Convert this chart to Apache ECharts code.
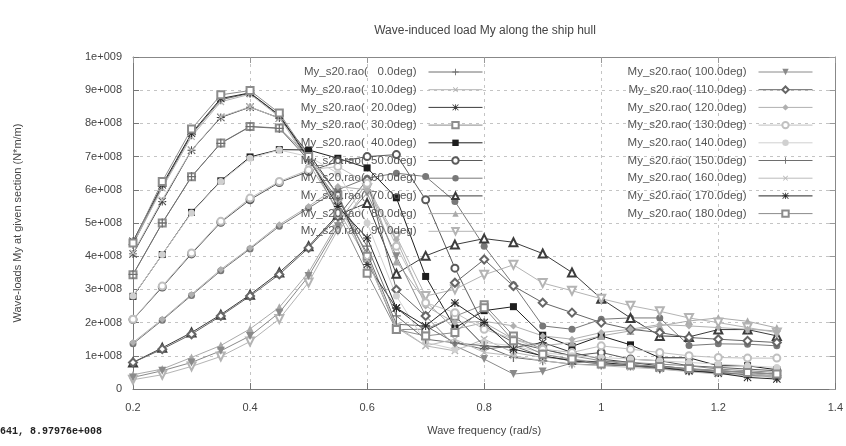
<!DOCTYPE html>
<html>
<head>
<meta charset="utf-8">
<title>Wave-induced load My</title>
<script src="https://cdn.jsdelivr.net/npm/echarts@6/dist/echarts.min.js"></script>
<style>
  html, body { margin: 0; padding: 0; background: #fff; }
  #main { width: 846px; height: 446px; }
</style>
</head>
<body>
<div id="main"></div>
<script>
// wave frequencies (rad/s) and headings (deg)
var freqs = [0.2, 0.25, 0.3, 0.35, 0.4, 0.45, 0.5, 0.55, 0.6, 0.65, 0.7, 0.75,
             0.8, 0.85, 0.9, 0.95, 1.0, 1.05, 1.1, 1.15, 1.2, 1.25, 1.3];
var angles = [0, 10, 20, 30, 40, 50, 60, 70, 80, 90, 100, 110, 120, 130, 140, 150, 160, 170, 180];

// My RAO values (N*m/m), one list per heading
var my000 = [4.35e8, 6.10e8, 7.66e8, 8.71e8, 8.91e8, 8.23e8, 6.90e8, 5.60e8, 4.10e8, 1.95e8, 1.90e8, 1.39e8, 1.20e8, 1.30e8, 0.98e8, 0.85e8, 0.75e8, 0.70e8, 0.62e8, 0.55e8, 0.50e8, 0.45e8, 0.40e8];
var my010 = [4.37e8, 6.05e8, 7.60e8, 8.65e8, 8.88e8, 8.20e8, 6.80e8, 5.40e8, 3.90e8, 1.85e8, 1.30e8, 1.15e8, 1.50e8, 1.10e8, 0.95e8, 0.90e8, 0.80e8, 0.70e8, 0.65e8, 0.60e8, 0.50e8, 0.45e8, 0.40e8];
var my020 = [4.07e8, 5.65e8, 7.19e8, 8.18e8, 8.49e8, 8.16e8, 7.10e8, 5.85e8, 3.75e8, 2.44e8, 1.75e8, 2.20e8, 1.30e8, 1.25e8, 1.40e8, 1.10e8, 0.90e8, 0.80e8, 0.70e8, 0.60e8, 0.55e8, 0.50e8, 0.45e8];
var my030 = [3.44e8, 5.00e8, 6.39e8, 7.41e8, 7.91e8, 7.86e8, 7.00e8, 5.85e8, 4.00e8, 1.79e8, 1.80e8, 2.19e8, 2.54e8, 1.60e8, 1.20e8, 1.00e8, 0.85e8, 0.75e8, 0.65e8, 0.60e8, 0.55e8, 0.50e8, 0.45e8];
var my040 = [2.79e8, 4.05e8, 5.32e8, 6.27e8, 6.99e8, 7.21e8, 7.20e8, 6.95e8, 6.66e8, 5.76e8, 3.39e8, 1.84e8, 2.36e8, 2.48e8, 1.62e8, 1.28e8, 1.60e8, 1.33e8, 0.94e8, 0.94e8, 0.70e8, 0.70e8, 0.58e8];
var my050 = [2.09e8, 3.07e8, 4.07e8, 5.02e8, 5.70e8, 6.22e8, 6.55e8, 6.85e8, 7.00e8, 7.06e8, 5.70e8, 3.64e8, 1.90e8, 1.40e8, 1.20e8, 1.00e8, 1.10e8, 0.90e8, 0.85e8, 0.70e8, 0.65e8, 0.60e8, 0.55e8];
var my060 = [1.36e8, 2.07e8, 2.82e8, 3.56e8, 4.22e8, 4.90e8, 5.45e8, 6.00e8, 6.35e8, 6.50e8, 6.40e8, 5.65e8, 4.30e8, 3.14e8, 1.90e8, 1.80e8, 2.10e8, 2.14e8, 2.14e8, 1.31e8, 1.36e8, 1.35e8, 1.30e8];
var my070 = [0.80e8, 1.24e8, 1.70e8, 2.24e8, 2.84e8, 3.51e8, 4.30e8, 5.25e8, 5.60e8, 3.47e8, 4.01e8, 4.35e8, 4.53e8, 4.42e8, 4.08e8, 3.51e8, 2.72e8, 2.14e8, 1.60e8, 1.57e8, 1.79e8, 1.79e8, 1.60e8];
var my080 = [0.43e8, 0.60e8, 0.95e8, 1.31e8, 1.81e8, 2.46e8, 3.51e8, 5.00e8, 6.20e8, 3.84e8, 2.64e8, 1.80e8, 2.00e8, 1.50e8, 1.30e8, 1.40e8, 1.60e8, 1.75e8, 1.90e8, 2.05e8, 2.14e8, 2.04e8, 1.84e8];
var my090 = [0.28e8, 0.43e8, 0.68e8, 0.98e8, 1.43e8, 2.11e8, 3.21e8, 4.80e8, 6.05e8, 4.60e8, 2.80e8, 3.00e8, 3.44e8, 3.74e8, 3.19e8, 2.96e8, 2.72e8, 2.51e8, 2.34e8, 2.14e8, 2.00e8, 1.85e8, 1.70e8];
var my100 = [0.35e8, 0.55e8, 0.80e8, 1.15e8, 1.60e8, 2.30e8, 3.40e8, 4.90e8, 5.90e8, 4.00e8, 2.20e8, 1.30e8, 0.90e8, 0.45e8, 0.53e8, 0.78e8, 0.85e8, 0.80e8, 0.75e8, 0.70e8, 0.60e8, 0.55e8, 0.50e8];
var my110 = [0.80e8, 1.20e8, 1.65e8, 2.20e8, 2.80e8, 3.45e8, 4.25e8, 5.20e8, 6.30e8, 2.99e8, 2.20e8, 3.20e8, 3.90e8, 3.10e8, 2.60e8, 2.30e8, 2.00e8, 1.80e8, 1.70e8, 1.55e8, 1.50e8, 1.45e8, 1.40e8];
var my120 = [1.40e8, 2.10e8, 2.85e8, 3.60e8, 4.25e8, 4.95e8, 5.50e8, 6.10e8, 6.00e8, 4.50e8, 2.50e8, 2.00e8, 2.04e8, 1.90e8, 1.60e8, 1.50e8, 1.70e8, 1.80e8, 1.94e8, 1.90e8, 1.85e8, 1.80e8, 1.75e8];
var my130 = [2.10e8, 3.10e8, 4.10e8, 5.05e8, 5.75e8, 6.25e8, 6.60e8, 6.70e8, 6.20e8, 4.30e8, 2.60e8, 2.30e8, 1.80e8, 1.50e8, 1.20e8, 1.10e8, 1.30e8, 1.20e8, 1.10e8, 1.00e8, 0.95e8, 0.93e8, 0.93e8];
var my140 = [2.80e8, 4.05e8, 5.30e8, 6.25e8, 6.95e8, 7.20e8, 7.00e8, 6.50e8, 5.00e8, 2.80e8, 1.40e8, 1.20e8, 1.40e8, 1.30e8, 1.10e8, 1.00e8, 0.95e8, 0.90e8, 0.85e8, 0.80e8, 0.75e8, 0.70e8, 0.65e8];
var my150 = [3.45e8, 5.00e8, 6.40e8, 7.40e8, 7.90e8, 7.85e8, 6.90e8, 5.70e8, 4.30e8, 2.20e8, 1.50e8, 1.39e8, 1.30e8, 0.95e8, 0.85e8, 0.75e8, 0.72e8, 0.70e8, 0.60e8, 0.55e8, 0.50e8, 0.42e8, 0.35e8];
var my160 = [4.10e8, 5.70e8, 7.20e8, 8.20e8, 8.50e8, 8.15e8, 7.00e8, 5.60e8, 3.90e8, 1.90e8, 1.30e8, 1.50e8, 1.10e8, 1.00e8, 0.85e8, 0.75e8, 0.70e8, 0.65e8, 0.60e8, 0.52e8, 0.45e8, 0.40e8, 0.35e8];
var my170 = [4.45e8, 6.15e8, 7.70e8, 8.75e8, 8.92e8, 8.25e8, 6.95e8, 5.50e8, 4.55e8, 2.44e8, 1.90e8, 2.59e8, 2.00e8, 1.20e8, 1.00e8, 0.85e8, 0.80e8, 0.72e8, 0.65e8, 0.55e8, 0.48e8, 0.35e8, 0.30e8];
var my180 = [4.40e8, 6.25e8, 7.83e8, 8.86e8, 8.99e8, 8.31e8, 7.00e8, 5.30e8, 3.49e8, 1.79e8, 1.60e8, 1.70e8, 2.45e8, 1.45e8, 1.05e8, 0.90e8, 0.75e8, 0.72e8, 0.68e8, 0.62e8, 0.55e8, 0.50e8, 0.45e8];

var allValues = [my000, my010, my020, my030, my040, my050, my060, my070, my080, my090,
                 my100, my110, my120, my130, my140, my150, my160, my170, my180];

// gnuplot-like point types
var PLUS = 'path://M4.3,0h1.4v10h-1.4z M0,4.3h10v1.4h-10z';
var STAR = 'path://M4.4,0h1.2v10h-1.2z M0,4.4h10v1.2h-10z M0.85,0L10,9.15L9.15,10L0,0.85z M9.15,0L10,0.85L0.85,10L0,9.15z';
var styles = [
  { sym: PLUS, rot: 0, c: '#6e6e6e', s: 9 },
  { sym: PLUS, rot: 45, c: '#b4b4b4', s: 9 },
  { sym: STAR, rot: 0, c: '#3c3c3c', s: 8 },
  { sym: 'emptyRect', rot: 0, c: '#8c8c8c', s: 7 },
  { sym: 'rect', rot: 0, c: '#1e1e1e', s: 7 },
  { sym: 'emptyCircle', rot: 0, c: '#5a5a5a', s: 7 },
  { sym: 'circle', rot: 0, c: '#787878', s: 7 },
  { sym: 'emptyTriangle', rot: 0, c: '#3c3c3c', s: 8 },
  { sym: 'triangle', rot: 0, c: '#aaaaaa', s: 8 },
  { sym: 'emptyTriangle', rot: 180, c: '#b4b4b4', s: 8 },
  { sym: 'triangle', rot: 180, c: '#8a8a8a', s: 8 },
  { sym: 'emptyDiamond', rot: 0, c: '#666666', s: 8 },
  { sym: 'diamond', rot: 0, c: '#b0b0b0', s: 7 },
  { sym: 'emptyCircle', rot: 0, c: '#c0c0c0', s: 7 },
  { sym: 'circle', rot: 0, c: '#d0d0d0', s: 7 },
  { sym: PLUS, rot: 0, c: '#6e6e6e', s: 9 },
  { sym: PLUS, rot: 45, c: '#bcbcbc', s: 9 },
  { sym: STAR, rot: 0, c: '#262626', s: 8 },
  { sym: 'emptyRect', rot: 0, c: '#8c8c8c', s: 7 }
];

function seriesName(a) {
  var t = a.toFixed(1);
  while (t.length < 6) t = ' ' + t;
  return 'My_s20.rao(' + t + 'deg)';
}

function fmtE(v) {
  if (v === 0) return '0';
  var e = Math.floor(Math.log10(v) + 1e-9);
  var m = Math.round(v / Math.pow(10, e) * 1000) / 1000;
  var es = String(e);
  while (es.length < 3) es = '0' + es;
  return m + 'e+' + es;
}

var names = angles.map(seriesName);
var series = angles.map(function (a, k) {
  var st = styles[k];
  var empty = st.sym.indexOf('empty') === 0;
  return {
    name: names[k],
    type: 'line',
    data: freqs.map(function (f, i) { return [f, allValues[k][i]]; }),
    symbol: st.sym,
    symbolSize: st.s,
    symbolRotate: st.rot,
    lineStyle: { color: st.c, width: 1 },
    itemStyle: empty ? { color: st.c, borderColor: st.c, borderWidth: 1 } : { color: st.c, borderWidth: 0 },
    emphasis: { disabled: true },
    animation: false
  };
});

var font = 'Liberation Sans, Arial, sans-serif';
var legendBase = {
  orient: 'vertical',
  align: 'right',
  top: 61,
  itemWidth: 54,
  itemHeight: 8,
  itemGap: 5.7,
  selectedMode: false,
  lineStyle: { width: 1 },
  textStyle: { fontFamily: font, fontSize: 11.5, color: '#555', lineHeight: 12, padding: [0, 7, 0, 0] }
};

var myChart = echarts.init(document.getElementById('main'));
var option = {
  backgroundColor: '#fff',
  animation: false,
  grid: { left: 133, right: 8, top: 57, bottom: 57, containLabel: false },
  legend: [
    Object.assign({}, legendBase, { right: 358, data: names.slice(0, 10) }),
    Object.assign({}, legendBase, { right: 28, data: names.slice(10) })
  ],
  graphic: [
    { type: 'text', x: 485, y: 31, style: { text: 'Wave-induced load My along the ship hull', fontFamily: font, fontSize: 12, fill: '#444', textAlign: 'center', textVerticalAlign: 'middle' } },
    { type: 'text', x: 0, y: 431, style: { text: '641, 8.97976e+008', fontFamily: 'Liberation Mono, monospace', fontWeight: 'bold', fontSize: 10, fill: '#222', textAlign: 'left', textVerticalAlign: 'middle' } }
  ],
  xAxis: [{
    type: 'value', min: 0.2, max: 1.4, interval: 0.2,
    name: 'Wave frequency (rad/s)', nameLocation: 'middle', nameGap: 36,
    nameTextStyle: { fontFamily: font, fontSize: 11, color: '#444' },
    axisLine: { lineStyle: { color: '#777' } },
    axisTick: { inside: true, length: 6, lineStyle: { color: '#777' } },
    axisLabel: { fontFamily: font, fontSize: 11, color: '#444', margin: 13 },
    splitLine: { show: true, lineStyle: { color: '#c4c4c4', type: [3, 4] } }
  }, {
    type: 'value', position: 'top', min: 0.2, max: 1.4, interval: 0.2,
    axisLine: { show: true, onZero: false, lineStyle: { color: '#888' } },
    axisTick: { show: true, inside: true, length: 6, lineStyle: { color: '#999' } },
    axisLabel: { show: false }, splitLine: { show: false }
  }],
  yAxis: [{
    type: 'value', min: 0, max: 1e9, interval: 1e8,
    name: 'Wave-loads My at given section (N*m/m)', nameLocation: 'middle', nameGap: 110,
    nameTextStyle: { fontFamily: font, fontSize: 11, color: '#444' },
    axisLine: { show: true, lineStyle: { color: '#777' } },
    axisTick: { show: true, inside: true, length: 6, lineStyle: { color: '#777' } },
    axisLabel: { fontFamily: font, fontSize: 11, color: '#444', margin: 11, formatter: fmtE },
    splitLine: { show: true, lineStyle: { color: '#c4c4c4', type: [3, 4] } }
  }, {
    type: 'value', position: 'right', min: 0, max: 1e9, interval: 1e8,
    axisLine: { show: true, onZero: false, lineStyle: { color: '#888' } },
    axisTick: { show: true, inside: true, length: 6, lineStyle: { color: '#999' } },
    axisLabel: { show: false }, splitLine: { show: false }
  }],
  series: series
};
myChart.setOption(option);
</script>
</body>
</html>
